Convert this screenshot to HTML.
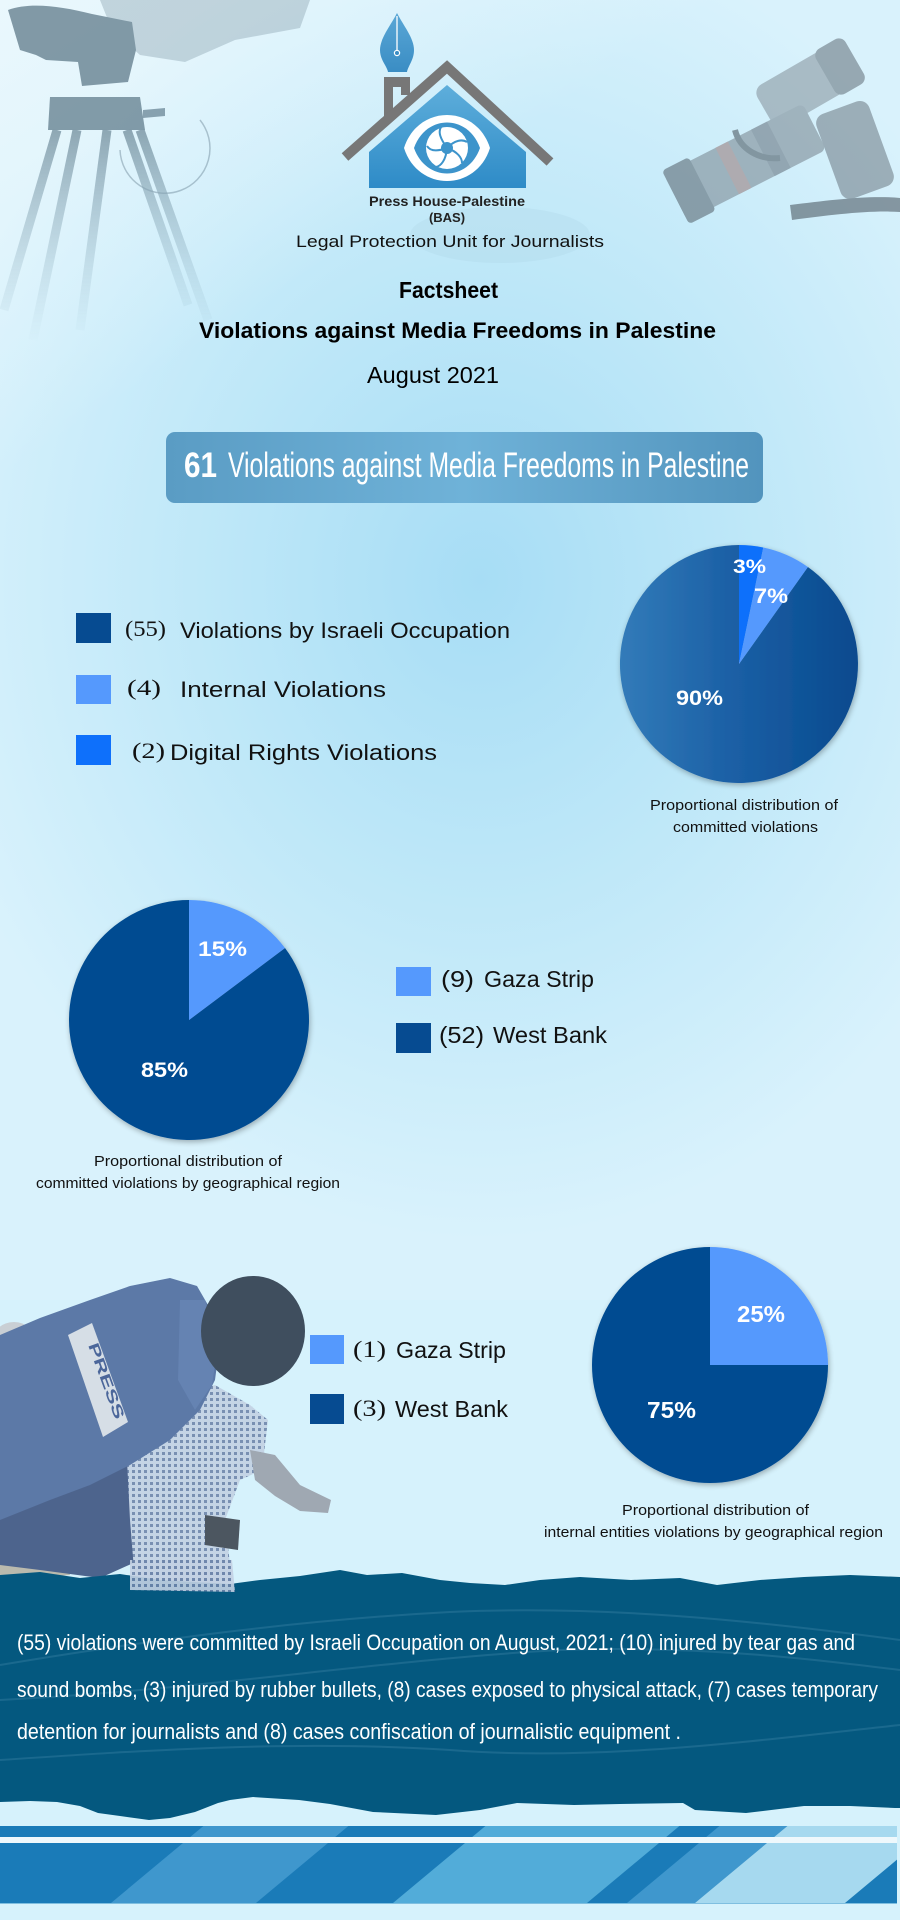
<!DOCTYPE html>
<html>
<head>
<meta charset="utf-8">
<style>
  html,body{margin:0;padding:0;background:#d6f2fc;}
  svg{display:block;}
  text{font-family:"Liberation Sans",sans-serif;}
  .serif{font-family:"Liberation Serif",serif;}
</style>
</head>
<body>
<svg width="900" height="1920" viewBox="0 0 900 1920" xmlns="http://www.w3.org/2000/svg">
  <defs>
    <radialGradient id="bgRad" cx="480" cy="580" r="600" gradientUnits="userSpaceOnUse" gradientTransform="translate(480 580) scale(0.95 1.1) translate(-480 -580)">
      <stop offset="0" stop-color="#a7ddf5"/>
      <stop offset="0.45" stop-color="#bde7f8"/>
      <stop offset="1" stop-color="#d9f2fc"/>
    </radialGradient>
    <linearGradient id="topFade" x1="0" y1="0" x2="1" y2="1">
      <stop offset="0" stop-color="#eef9fd" stop-opacity="0.8"/>
      <stop offset="0.4" stop-color="#eef9fd" stop-opacity="0"/>
    </linearGradient>
    <linearGradient id="houseGrad" x1="0" y1="0" x2="0" y2="1">
      <stop offset="0" stop-color="#5eaedb"/>
      <stop offset="1" stop-color="#2e8bc7"/>
    </linearGradient>
    <linearGradient id="penGrad" x1="0" y1="0" x2="0" y2="1">
      <stop offset="0" stop-color="#5aa7d6"/>
      <stop offset="1" stop-color="#3a8dc4"/>
    </linearGradient>
    <linearGradient id="boxGrad" x1="0" y1="0" x2="1" y2="0">
      <stop offset="0" stop-color="#5a9cc4"/>
      <stop offset="0.5" stop-color="#6fb2d8"/>
      <stop offset="1" stop-color="#5294bd"/>
    </linearGradient>
    <linearGradient id="pie1Grad" x1="620" y1="0" x2="858" y2="0" gradientUnits="userSpaceOnUse">
      <stop offset="0" stop-color="#327bb9"/>
      <stop offset="0.5" stop-color="#1a5ea4"/>
      <stop offset="1" stop-color="#074a8e"/>
    </linearGradient>
    <linearGradient id="legFade" x1="0" y1="130" x2="0" y2="345" gradientUnits="userSpaceOnUse">
      <stop offset="0" stop-color="#5d7a8a" stop-opacity="0.85"/>
      <stop offset="1" stop-color="#8fb4c6" stop-opacity="0"/>
    </linearGradient>
    <filter id="shadow" x="-20%" y="-20%" width="140%" height="140%">
      <feGaussianBlur in="SourceAlpha" stdDeviation="3"/>
      <feOffset dx="1" dy="2" result="b"/>
      <feComponentTransfer><feFuncA type="linear" slope="0.3"/></feComponentTransfer>
      <feMerge><feMergeNode/><feMergeNode in="SourceGraphic"/></feMerge>
    </filter>
    <pattern id="check" width="6" height="6" patternUnits="userSpaceOnUse">
      <rect width="6" height="6" fill="#c3d1e3"/>
      <rect width="3" height="3" fill="#6f86ab"/>
    </pattern>
    <clipPath id="stripeClip">
      <rect x="0" y="1826" width="897" height="78"/>
    </clipPath>
  </defs>

  <!-- Background -->
  <rect x="0" y="0" width="900" height="1920" fill="#d6f2fc"/>
  <rect x="0" y="0" width="900" height="1300" fill="url(#bgRad)"/>
  <rect x="0" y="0" width="900" height="600" fill="url(#topFade)"/>

  <!-- faint map smudge -->
  <ellipse cx="500" cy="235" rx="90" ry="28" fill="#9fc7da" opacity="0.18"/>

  <!-- Tripod (top-left) -->
  <g opacity="0.75">
    <path d="M100,0 L310,0 L300,28 L235,40 L185,62 L140,55 L112,30 Z" fill="#8aa2af" opacity="0.55"/>
    <path d="M8,10 C30,2 60,6 92,14 L132,22 L136,50 L128,82 L82,86 L78,62 L46,60 L36,55 L20,50 L14,30 Z" fill="#5f7a8a"/>
    <path d="M50,97 L140,97 L145,130 L48,130 Z" fill="#617d8c"/>
    <path d="M143,110 L165,108 L165,116 L143,118 Z" fill="#6a8696"/>
    <path d="M120,150 A45,45 0 1 0 200,120" fill="none" stroke="#6a8696" stroke-width="1.5" opacity="0.6"/>
    <g stroke="url(#legFade)" stroke-width="9" stroke-linecap="butt" fill="none">
      <line x1="57" y1="130" x2="4" y2="310"/>
      <line x1="77" y1="130" x2="33" y2="340"/>
      <line x1="107" y1="130" x2="80" y2="330"/>
      <line x1="127" y1="130" x2="188" y2="305"/>
      <line x1="140" y1="130" x2="208" y2="320"/>
    </g>
  </g>

  <!-- Camera (top-right) -->
  <g opacity="0.6">
    <g transform="translate(808 85) rotate(-30)">
      <rect x="-50" y="-24" width="100" height="48" rx="10" fill="#8a98a2"/>
      <rect x="20" y="-26" width="34" height="52" rx="8" fill="#6a7882"/>
    </g>
    <g transform="translate(745 162) rotate(-27)">
      <rect x="-78" y="-26" width="156" height="52" rx="6" fill="#7d8b95"/>
      <rect x="-78" y="-30" width="30" height="60" rx="4" fill="#5c6a74"/>
      <rect x="-20" y="-26" width="14" height="52" fill="#9a8080"/>
      <rect x="20" y="-26" width="18" height="52" fill="#6a7782"/>
    </g>
    <g transform="translate(855 150) rotate(-20)">
      <rect x="-28" y="-45" width="56" height="90" rx="10" fill="#74828c"/>
    </g>
    <path d="M790,205 C830,200 870,195 900,198 L900,212 C870,210 830,215 792,220 Z" fill="#4f5c66"/>
    <path d="M735,130 C740,150 760,160 780,158" fill="none" stroke="#4f5c66" stroke-width="6"/>
  </g>

  <!-- Logo -->
  <g>
    <path d="M397,13 C403,25 414,38 414,50 C414,60 408,66 407,72 L388,72 C387,66 380,60 380,50 C380,38 391,25 397,13 Z" fill="url(#penGrad)"/>
    <line x1="397" y1="16" x2="397" y2="50" stroke="#ffffff" stroke-width="1.3"/>
    <circle cx="397" cy="53" r="2.6" fill="#3a8dc4" stroke="#ffffff" stroke-width="1.2"/>
    <path d="M447,85 L526,152 L526,188 L369,188 L369,152 Z" fill="url(#houseGrad)"/>
    <rect x="384" y="77" width="26" height="10" fill="#777777"/>
    <rect x="384" y="77" width="9" height="42" fill="#777777"/>
    <rect x="401" y="77" width="9" height="18" fill="#777777"/>
    <polyline points="345,157 447,67 550,162" fill="none" stroke="#777777" stroke-width="10" stroke-linejoin="miter"/>
    <path d="M404,148 C418,104 476,104 490,148 C476,192 418,192 404,148 Z" fill="#ffffff"/>
    <path d="M414,148 C426,114 468,114 480,148 C468,182 426,182 414,148 Z" fill="#3d94cb"/>
    <circle cx="447" cy="148" r="21" fill="#ffffff"/>
    <g fill="none" stroke="#3d94cb" stroke-width="2">
      <path d="M447,148 C440,138 438,132 441,127"/>
      <path d="M447,148 C455,140 462,139 467,142"/>
      <path d="M447,148 C458,152 462,158 462,163"/>
      <path d="M447,148 C446,160 441,166 436,167"/>
      <path d="M447,148 C436,152 430,151 427,146"/>
    </g>
    <circle cx="447" cy="148" r="6" fill="#3d94cb"/>
  </g>

  <!-- Header text -->
  <text x="447" y="206" font-size="14" font-weight="bold" text-anchor="middle" textLength="156" lengthAdjust="spacingAndGlyphs" fill="#222">Press House-Palestine</text>
  <text x="447" y="222" font-size="13" font-weight="bold" text-anchor="middle" fill="#222">(BAS)</text>
  <text x="296" y="247" font-size="17" textLength="308" lengthAdjust="spacingAndGlyphs" fill="#111">Legal Protection Unit for Journalists</text>
  <text x="399" y="298" font-size="23" font-weight="bold" textLength="99" lengthAdjust="spacingAndGlyphs" fill="#000">Factsheet</text>
  <text x="199" y="338" font-size="22" font-weight="bold" textLength="517" lengthAdjust="spacingAndGlyphs" fill="#000">Violations against Media Freedoms in Palestine</text>
  <text x="367" y="383" font-size="23" textLength="132" lengthAdjust="spacingAndGlyphs" fill="#000">August 2021</text>

  <!-- 61 box -->
  <rect x="166" y="432" width="597" height="71" rx="9" fill="url(#boxGrad)"/>
  <text x="184" y="477" font-size="35" font-weight="bold" textLength="33" lengthAdjust="spacingAndGlyphs" fill="#ffffff">61</text>
  <text x="228" y="477" font-size="35" textLength="521" lengthAdjust="spacingAndGlyphs" fill="#ffffff">Violations against Media Freedoms in Palestine</text>

  <!-- Legend 1 -->
  <rect x="76" y="613" width="35" height="30" fill="#064b91"/>
  <rect x="76" y="675" width="35" height="29" fill="#5599fd"/>
  <rect x="76" y="735" width="35" height="30" fill="#0e70fb"/>
  <text class="serif" x="125" y="636" font-size="22" textLength="41" lengthAdjust="spacingAndGlyphs" fill="#111">(55)</text>
  <text x="180" y="638" font-size="22" textLength="330" lengthAdjust="spacingAndGlyphs" fill="#111">Violations by Israeli Occupation</text>
  <text class="serif" x="127" y="695" font-size="22" textLength="34" lengthAdjust="spacingAndGlyphs" fill="#111">(4)</text>
  <text x="180" y="697" font-size="22" textLength="206" lengthAdjust="spacingAndGlyphs" fill="#111">Internal Violations</text>
  <text class="serif" x="132" y="758" font-size="22" textLength="33" lengthAdjust="spacingAndGlyphs" fill="#111">(2)</text>
  <text x="170" y="760" font-size="22" textLength="267" lengthAdjust="spacingAndGlyphs" fill="#111">Digital Rights Violations</text>

  <!-- Pie 1 -->
  <g filter="url(#shadow)">
    <path d="M739,664 L807.9,567 A119,119 0 1 1 739,545 Z" fill="url(#pie1Grad)"/>
    <path d="M739,664 L739,545 A119,119 0 0 1 763.3,547.5 Z" fill="#0e70fb"/>
    <path d="M739,664 L763.3,547.5 A119,119 0 0 1 807.9,567 Z" fill="#5599fd"/>
  </g>
  <text x="733" y="573" font-size="19" font-weight="bold" textLength="33" lengthAdjust="spacingAndGlyphs" fill="#ffffff">3%</text>
  <text x="754" y="603" font-size="21" font-weight="bold" textLength="34" lengthAdjust="spacingAndGlyphs" fill="#ffffff">7%</text>
  <text x="676" y="705" font-size="21" font-weight="bold" textLength="47" lengthAdjust="spacingAndGlyphs" fill="#ffffff">90%</text>
  <text x="650" y="810" font-size="14.5" textLength="188" lengthAdjust="spacingAndGlyphs" fill="#111">Proportional distribution of</text>
  <text x="673" y="832" font-size="14.5" textLength="145" lengthAdjust="spacingAndGlyphs" fill="#111">committed violations</text>

  <!-- Pie 2 -->
  <g filter="url(#shadow)">
    <path d="M189,1020 L285,948 A120,120 0 1 1 189,900 Z" fill="#064b91"/>
    <path d="M189,1020 L189,900 A120,120 0 0 1 285,948 Z" fill="#5599fd"/>
  </g>
  <text x="198" y="956" font-size="21" font-weight="bold" textLength="49" lengthAdjust="spacingAndGlyphs" fill="#ffffff">15%</text>
  <text x="141" y="1077" font-size="21" font-weight="bold" textLength="47" lengthAdjust="spacingAndGlyphs" fill="#ffffff">85%</text>
  <text x="94" y="1166" font-size="14.5" textLength="188" lengthAdjust="spacingAndGlyphs" fill="#111">Proportional distribution of</text>
  <text x="36" y="1188" font-size="14.5" textLength="304" lengthAdjust="spacingAndGlyphs" fill="#111">committed violations by geographical region</text>

  <!-- Legend 2 -->
  <rect x="396" y="967" width="35" height="29" fill="#5599fd"/>
  <rect x="396" y="1023" width="35" height="30" fill="#064b91"/>
  <text x="441" y="987" font-size="23" textLength="33" lengthAdjust="spacingAndGlyphs" fill="#111">(9)</text>
  <text x="484" y="987" font-size="23" textLength="110" lengthAdjust="spacingAndGlyphs" fill="#111">Gaza Strip</text>
  <text x="439" y="1043" font-size="23" textLength="45" lengthAdjust="spacingAndGlyphs" fill="#111">(52)</text>
  <text x="493" y="1043" font-size="23" textLength="114" lengthAdjust="spacingAndGlyphs" fill="#111">West Bank</text>

  <!-- Person (bottom-left) -->
  <g opacity="0.9">
    <ellipse cx="14" cy="1342" rx="22" ry="20" fill="#c8ccd0"/>
    <path d="M0,1530 L60,1535 L70,1575 L0,1580 Z" fill="#b7b5a6"/>
    <path d="M0,1500 L60,1480 L130,1455 L165,1440 L155,1500 L140,1560 L100,1578 L40,1570 L0,1565 Z" fill="#3f5582"/>
    <path d="M125,1420 L170,1400 L215,1385 L250,1405 L268,1420 L262,1470 L240,1480 L225,1520 L232,1582 L170,1588 L135,1582 L130,1520 Z" fill="url(#check)"/>
    <path d="M250,1450 L275,1455 L300,1485 L331,1500 L328,1513 L300,1511 L275,1496 L255,1480 Z" fill="#9aa0ab"/>
    <path d="M205,1515 L240,1520 L238,1550 L205,1545 Z" fill="#3e4650"/>
    <path d="M0,1335 L40,1318 L90,1300 L130,1286 L170,1278 L197,1286 L212,1312 L220,1342 L215,1380 L200,1410 L170,1440 L130,1465 L90,1485 L50,1500 L0,1520 Z" fill="#4f6c9e"/>
    <path d="M180,1300 L205,1300 L218,1345 L212,1385 L195,1410 L178,1380 Z" fill="#5977aa"/>
    <ellipse cx="253" cy="1331" rx="52" ry="55" fill="#2f3d4d"/>
    <path d="M68,1335 L92,1323 L128,1422 L103,1437 Z" fill="#d6dce4"/>
    <text x="0" y="0" font-size="15" font-weight="bold" fill="#3d5790" transform="translate(88 1345) rotate(70)" textLength="80" lengthAdjust="spacingAndGlyphs">PRESS</text>
  </g>

  <!-- Legend 3 -->
  <rect x="310" y="1335" width="34" height="29" fill="#5599fd"/>
  <rect x="310" y="1394" width="34" height="30" fill="#064b91"/>
  <text class="serif" x="353" y="1357" font-size="23" textLength="33" lengthAdjust="spacingAndGlyphs" fill="#111">(1)</text>
  <text x="396" y="1358" font-size="23" textLength="110" lengthAdjust="spacingAndGlyphs" fill="#111">Gaza Strip</text>
  <text class="serif" x="353" y="1416" font-size="23" textLength="33" lengthAdjust="spacingAndGlyphs" fill="#111">(3)</text>
  <text x="395" y="1417" font-size="23" textLength="113" lengthAdjust="spacingAndGlyphs" fill="#111">West Bank</text>

  <!-- Pie 3 -->
  <g filter="url(#shadow)">
    <path d="M710,1365 L828,1365 A118,118 0 1 1 710,1247 Z" fill="#064b91"/>
    <path d="M710,1365 L710,1247 A118,118 0 0 1 828,1365 Z" fill="#5599fd"/>
  </g>
  <text x="737" y="1322" font-size="23" font-weight="bold" textLength="48" lengthAdjust="spacingAndGlyphs" fill="#ffffff">25%</text>
  <text x="647" y="1418" font-size="23" font-weight="bold" textLength="49" lengthAdjust="spacingAndGlyphs" fill="#ffffff">75%</text>
  <text x="622" y="1515" font-size="14.5" textLength="187" lengthAdjust="spacingAndGlyphs" fill="#111">Proportional distribution of</text>
  <text x="544" y="1537" font-size="14.5" textLength="339" lengthAdjust="spacingAndGlyphs" fill="#111">internal entities violations by geographical region</text>

  <!-- Dark band -->
  <path d="M0,1575 L40,1572 L80,1578 L120,1574 L160,1580 L230,1584 L260,1580 L300,1576 L340,1570 L367,1575 L402,1573 L440,1580 L470,1583 L505,1585 L540,1580 L580,1577 L631,1580 L680,1578 L717,1585 L760,1580 L804,1577 L850,1575 L900,1577
           L900,1808 L895,1808 L850,1806 L804,1806 L746,1813 L695,1810 L683,1803 L620,1804 L574,1805 L517,1803 L480,1810 L436,1815 L373,1812 L330,1804 L299,1800 L253,1797 L230,1800 L218,1803 L195,1812 L170,1818 L149,1820 L120,1816 L98,1813 L80,1806 L57,1802 L30,1801 L0,1802 Z" fill="#04587f"/>
  <!-- faint barbed wire -->
  <g fill="none" stroke="#5d9bbd" stroke-width="2" opacity="0.25">
    <path d="M0,1665 C150,1640 300,1620 450,1612 C600,1605 750,1620 900,1640"/>
    <path d="M0,1700 C200,1690 380,1660 560,1650 C700,1645 820,1660 900,1670"/>
    <path d="M0,1760 C150,1750 300,1740 450,1750 C600,1762 760,1740 900,1725"/>
  </g>
  <!-- person bottom over band -->
  <path d="M130,1560 L232,1560 L235,1592 L130,1590 Z" fill="url(#check)" opacity="0.9"/>

  <!-- Bottom paragraph -->
  <text x="17" y="1650" font-size="22" textLength="838" lengthAdjust="spacingAndGlyphs" fill="#ffffff">(55) violations were committed by Israeli Occupation on August, 2021; (10) injured by tear gas and</text>
  <text x="17" y="1697" font-size="22" textLength="861" lengthAdjust="spacingAndGlyphs" fill="#ffffff">sound bombs, (3) injured by rubber bullets, (8) cases exposed to physical attack, (7) cases temporary</text>
  <text x="17" y="1739" font-size="22" textLength="664" lengthAdjust="spacingAndGlyphs" fill="#ffffff">detention for journalists and (8) cases confiscation of journalistic equipment .</text>

  <!-- Stripes -->
  <g clip-path="url(#stripeClip)">
    <rect x="0" y="1826" width="897" height="78" fill="#1a7bb8"/>
    <!-- boundaries: x at y=1843 => x - (y-1843)*1.2 -->
    <polygon points="203.4,1826 348.4,1826 254.8,1904 109.8,1904" fill="#3f97cd"/>
    <polygon points="485.4,1826 679.4,1826 585.8,1904 391.8,1904" fill="#52acd9"/>
    <polygon points="719.4,1826 787.4,1826 693.8,1904 625.8,1904" fill="#3f97cd"/>
    <polygon points="787.4,1826 1000,1826 1000,1904 693.8,1904" fill="#a6d9ef"/>
    <polygon points="937.4,1826 1000,1826 1000,1904 843.8,1904" fill="#1a7bb8"/>
  </g>
  <rect x="0" y="1837" width="897" height="6" fill="#eef8fc"/>
  <rect x="0" y="1903" width="897" height="1" fill="#7fbfe0"/>
</svg>
</body>
</html>
